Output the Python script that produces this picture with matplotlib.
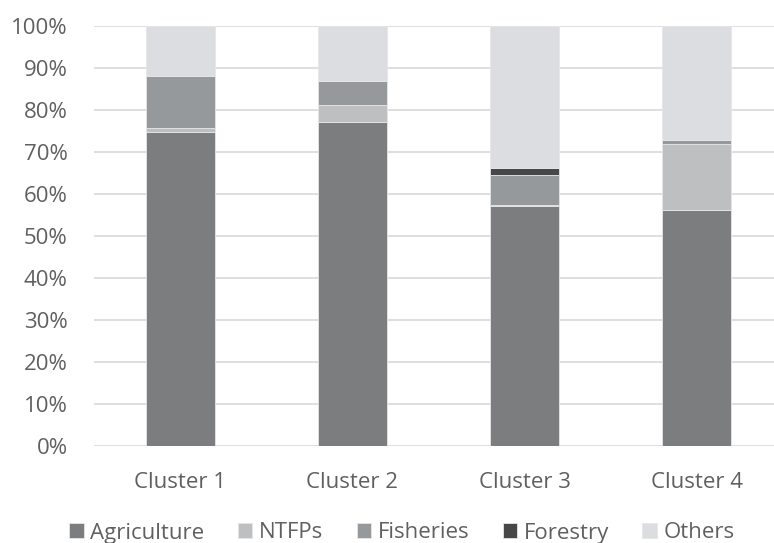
import matplotlib
matplotlib.use("Agg")
from matplotlib import pyplot as plt
from matplotlib.ticker import PercentFormatter
import numpy as np

clusters = ["Cluster 1", "Cluster 2", "Cluster 3", "Cluster 4"]
agriculture = [74.8, 77.2, 57.2, 56.3]
ntfps = [1.0, 4.1, 0.3, 15.7]
fisheries = [12.3, 5.7, 7.0, 0.9]
forestry = [0.0, 0.0, 1.8, 0.0]
others = [11.9, 13.0, 33.7, 27.1]

series = [
    ("Agriculture", agriculture, "#7c7d7e"),
    ("NTFPs", ntfps, "#bebfc0"),
    ("Fisheries", fisheries, "#95999b"),
    ("Forestry", forestry, "#464749"),
    ("Others", others, "#dcdde0"),
]

plt.rcParams["font.family"] = ["Open Sans", "DejaVu Sans"]
txt_col = "#606060"

fig = plt.figure(figsize=(7.74, 5.43), dpi=100)
ax = fig.add_axes([94 / 774, 1 - 446 / 543, (783 - 94) / 774, 420 / 543])

x = np.arange(len(clusters))
bottom = np.zeros(len(clusters))
for name, vals, col in series:
    ax.bar(x, vals, 0.4, bottom=bottom, color=col, label=name,
           edgecolor="#e6e6e6", linewidth=0.6, zorder=3)
    bottom += np.array(vals)

ax.set_xlim(-0.5, 3.5)
ax.set_ylim(0, 100)
ax.set_yticks(range(0, 101, 10))
ax.yaxis.set_major_formatter(PercentFormatter(decimals=0))
ax.set_xticks(x)
ax.set_xticklabels(clusters)
ax.grid(axis="y", color="#d9d9d9", linewidth=1.2, zorder=0)
for s in ax.spines.values():
    s.set_visible(False)
ax.tick_params(length=0, labelsize=16, colors=txt_col)
ax.tick_params(axis="x", pad=19)
ax.tick_params(axis="y", pad=19)

leg = ax.legend(loc="center", ncol=5, frameon=False, fontsize=16,
                handlelength=0.65, handleheight=0.65,
                columnspacing=1.5, handletextpad=0.3, borderaxespad=0,
                bbox_to_anchor=(402 / 774, 1 - 533 / 543),
                bbox_transform=fig.transFigure)
for t in leg.get_texts():
    t.set_color(txt_col)

fig.savefig("out.png", dpi=100)
